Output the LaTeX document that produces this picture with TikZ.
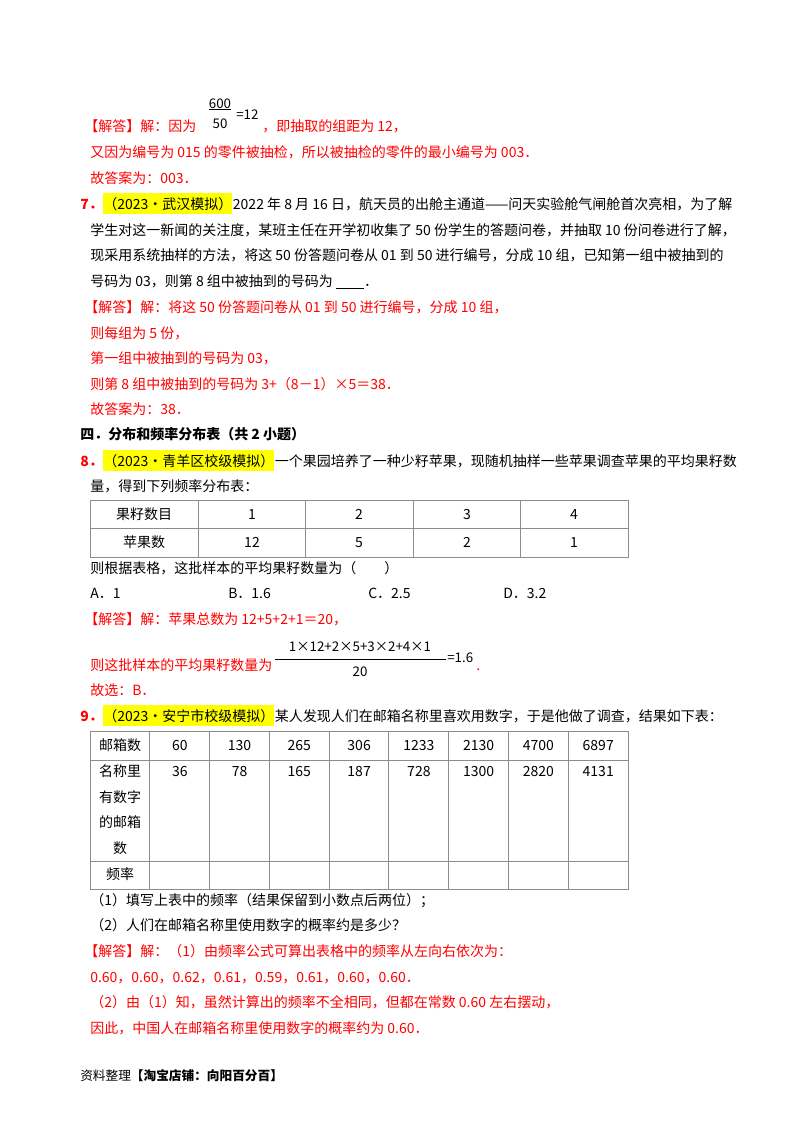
\documentclass[tikz,border=0pt]{standalone}
\usepackage{fontspec}
\setmainfont{Noto Sans CJK SC}
\definecolor{hl}{RGB}{255,255,0}
\definecolor{rd}{RGB}{255,0,0}
\begin{document}
\begin{tikzpicture}[x=0.75pt,y=-0.75pt,
  t/.style={anchor=base west,inner sep=0pt,font=\fontsize{10.5}{12}\selectfont},
  r/.style={t,text=rd},
  qn/.style={t,text=rd,font=\fontsize{10.5}{12}\selectfont\bfseries},
  hlnode/.style={t,fill=hl,inner ysep=3pt,inner xsep=0pt,text depth=1pt},
  c/.style={anchor=base,inner sep=0pt,font=\fontsize{10.5}{12}\selectfont},
  f/.style={inner sep=0pt,font=\fontsize{10}{12}\selectfont},
  grid/.style={draw=black!45,line width=0.7pt}]
\useasboundingbox (0,0) rectangle (800,1132);
% question 6 answer
\node[f] (n600) at (220,104) {600};
\node[f] (n50) at (220,124) {50};
\draw (n600.south west) -- (n600.south east);
\node[f,anchor=west] (eq12) at (236,115) {=12};
\node[r] (a1) at (84,131) {【解答】解：因为};
\node[r] (a1b) at (262,131) {，即抽取的组距为 12，};
\node[r] (a2) at (90,157) {又因为编号为 015 的零件被抽检，所以被抽检的零件的最小编号为 003．};
\node[r] (a3) at (90,183) {故答案为：003．};
% question 7
\node[qn] (q7n) at (80,209) {7．};
\node[hlnode,anchor=base west] (q7h) at (q7n.base east) {（2023•武汉模拟）};
\node[t] (q7) at (q7h.base east) {2022 年 8 月 16 日，航天员的出舱主通道——问天实验舱气闸舱首次亮相，为了解};
\node[t] (q7b) at (90,235) {学生对这一新闻的关注度，某班主任在开学初收集了 50 份学生的答题问卷，并抽取 10 份问卷进行了解，};
\node[t] (q7c) at (90,260) {现采用系统抽样的方法，将这 50 份答题问卷从 01 到 50 进行编号，分成 10 组，已知第一组中被抽到的};
\node[t] (q7d) at (90,286) {号码为 03，则第 8 组中被抽到的号码为 \underline{\hspace{2em}}．};
\node[r] (b1) at (84,312) {【解答】解：将这 50 份答题问卷从 01 到 50 进行编号，分成 10 组，};
\node[r] (b2) at (90,338) {则每组为 5 份，};
\node[r] (b3) at (90,363) {第一组中被抽到的号码为 03，};
\node[r] (b4) at (90,389) {则第 8 组中被抽到的号码为 3+（8－1）×5＝38．};
\node[r] (b5) at (90,414) {故答案为：38．};
% section
\node[t,font=\fontsize{10.5}{12}\selectfont\bfseries] (sec) at (80,439) {四．分布和频率分布表（共 2 小题）};
% question 8
\node[qn] (q8n) at (80,466) {8．};
\node[hlnode] (q8h) at (q8n.base east) {（2023•青羊区校级模拟）};
\node[t] (q8) at (q8h.base east) {一个果园培养了一种少籽苹果，现随机抽样一些苹果调查苹果的平均果籽数};
\node[t] (q8b) at (90,491) {量，得到下列频率分布表：};
\draw[grid] (90,500) rectangle (628,557);
\draw[grid] (90,528) -- (628,528);
\foreach \xx in {198,305,413,520} \draw[grid] (\xx,500) -- (\xx,557);
\node[c] (t11) at (144,519) {果籽数目};
\node[c] (t12) at (252,519) {1};
\node[c] (t13) at (359,519) {2};
\node[c] (t14) at (467,519) {3};
\node[c] (t15) at (574,519) {4};
\node[c] (t21) at (144,547) {苹果数};
\node[c] (t22) at (252,547) {12};
\node[c] (t23) at (359,547) {5};
\node[c] (t24) at (467,547) {2};
\node[c] (t25) at (574,547) {1};
\node[t] (q8c) at (90,573) {则根据表格，这批样本的平均果籽数量为（\hspace{2em}）};
\node[t] (oA) at (90,598) {A．1};
\node[t] (oB) at (228,598) {B．1.6};
\node[t] (oC) at (368,598) {C．2.5};
\node[t] (oD) at (503,598) {D．3.2};
\node[r] (c1) at (84,624) {【解答】解：苹果总数为 12+5+2+1＝20，};
\node[f] (num) at (360,647) {1×12+2×5+3×2+4×1};
\draw (275,659) -- (446,659);
\node[f] (den) at (360,672) {20};
\node[f,anchor=west] (eq16) at (447,658) {=1.6};
\node[r] (c2) at (90,670) {则这批样本的平均果籽数量为};
\node[r] (dot) at (476,670) {.};
\node[r] (c3) at (90,695) {故选：\textit{B}．};
% question 9
\node[qn] (q9n) at (80,721) {9．};
\node[hlnode] (q9h) at (q9n.base east) {（2023•安宁市校级模拟）};
\node[t] (q9) at (q9h.base east) {某人发现人们在邮箱名称里喜欢用数字，于是他做了调查，结果如下表：};
\draw[grid] (90,731) rectangle (628,889);
\draw[grid] (90,760) -- (628,760);
\draw[grid] (90,861) -- (628,861);
\foreach \i in {1,...,8} \draw[grid] ({90+\i*59.78},731) -- ({90+\i*59.78},889);
\node[c] (h0) at (120,750) {邮箱数};
\foreach \v [count=\i] in {60,130,265,306,1233,2130,4700,6897}
  \node[c] (h\i) at ({120+\i*59.78},750) {\v};
\node[c] (m0a) at (120,776) {名称里};
\node[c] (m0b) at (120,802) {有数字};
\node[c] (m0c) at (120,827) {的邮箱};
\node[c] (m0d) at (120,853) {数};
\foreach \v [count=\i] in {36,78,165,187,728,1300,2820,4131}
  \node[c] (m\i) at ({120+\i*59.78},776) {\v};
\node[c] (p0) at (120,879) {频率};
\node[t] (q9b) at (90,905) {（1）填写上表中的频率（结果保留到小数点后两位）；};
\node[t] (q9c) at (90,930) {（2）人们在邮箱名称里使用数字的概率约是多少？};
\node[r] (d1) at (84,956) {【解答】解：（1）由频率公式可算出表格中的频率从左向右依次为：};
\node[r] (d2) at (90,982) {0.60，0.60，0.62，0.61，0.59，0.61，0.60，0.60．};
\node[r] (d3) at (90,1007) {（2）由（1）知，虽然计算出的频率不全相同，但都在常数 0.60 左右摆动，};
\node[r] (d4) at (90,1033) {因此，中国人在邮箱名称里使用数字的概率约为 0.60．};
% footer
\node[t,font=\fontsize{9.5}{11}\selectfont] (foot) at (80,1080) {资料整理\textbf{【淘宝店铺：向阳百分百】}};
\end{tikzpicture}
\end{document}
